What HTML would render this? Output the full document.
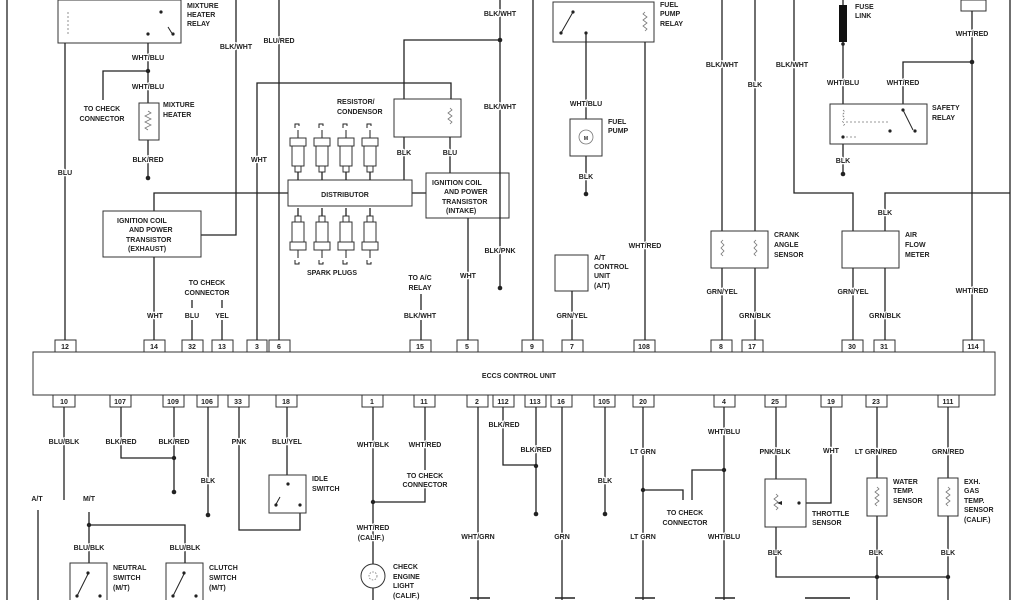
<!DOCTYPE html>
<html><head><meta charset="utf-8"><style>
html,body{margin:0;padding:0;background:#fff;}
svg{display:block;}
text{font-family:"Liberation Sans",sans-serif;font-size:7px;font-weight:bold;fill:#222;stroke:#fff;stroke-width:2.5px;paint-order:stroke;stroke-linejoin:round;}
.m{text-anchor:middle;}
.w{stroke:#222;stroke-width:1.3;fill:none;}
.b{stroke:#333;stroke-width:1;fill:#fff;}
.d{fill:#222;}
.z{stroke:#777;stroke-width:0.8;fill:none;}
</style></head><body>
<svg width="1024" height="600" viewBox="0 0 1024 600" xmlns="http://www.w3.org/2000/svg">
<defs>
<g id="plug"><path class="w" style="stroke-width:1" d="M-3,0 v-4 h4 v2 M0,2 v8"/><rect class="b" x="-8" y="10" width="16" height="8"/><rect class="b" x="-6" y="18" width="12" height="20"/><rect class="b" x="-3" y="38" width="6" height="6"/><path class="w" d="M0,44 v8"/></g>
</defs>
<!-- borders -->
<path class="w" d="M7,0 V600 M1010,0 V600"/>
<!-- ECU -->
<rect class="b" x="33" y="352" width="962" height="43"/>
<text x="519" y="378" class="m">ECCS CONTROL UNIT</text>
<!-- top pins -->
<g class="b">
<rect x="55" y="340" width="21" height="12"/><rect x="144" y="340" width="21" height="12"/><rect x="182" y="340" width="21" height="12"/><rect x="212" y="340" width="21" height="12"/><rect x="247" y="340" width="20" height="12"/><rect x="269" y="340" width="21" height="12"/><rect x="410" y="340" width="21" height="12"/><rect x="457" y="340" width="21" height="12"/><rect x="522" y="340" width="21" height="12"/><rect x="562" y="340" width="21" height="12"/><rect x="634" y="340" width="21" height="12"/><rect x="711" y="340" width="21" height="12"/><rect x="742" y="340" width="21" height="12"/><rect x="842" y="340" width="21" height="12"/><rect x="874" y="340" width="21" height="12"/><rect x="963" y="340" width="21" height="12"/>
</g>
<g>
<text x="65" y="349" class="m">12</text><text x="154" y="349" class="m">14</text><text x="192" y="349" class="m">32</text><text x="222" y="349" class="m">13</text><text x="257" y="349" class="m">3</text><text x="279" y="349" class="m">6</text><text x="420" y="349" class="m">15</text><text x="467" y="349" class="m">5</text><text x="532" y="349" class="m">9</text><text x="572" y="349" class="m">7</text><text x="644" y="349" class="m">108</text><text x="721" y="349" class="m">8</text><text x="752" y="349" class="m">17</text><text x="852" y="349" class="m">30</text><text x="884" y="349" class="m">31</text><text x="973" y="349" class="m">114</text>
</g>
<!-- bottom pins -->
<g class="b">
<rect x="53" y="395" width="22" height="12"/><rect x="110" y="395" width="21" height="12"/><rect x="163" y="395" width="21" height="12"/><rect x="197" y="395" width="21" height="12"/><rect x="228" y="395" width="21" height="12"/><rect x="276" y="395" width="21" height="12"/><rect x="362" y="395" width="21" height="12"/><rect x="414" y="395" width="21" height="12"/><rect x="467" y="395" width="21" height="12"/><rect x="493" y="395" width="21" height="12"/><rect x="525" y="395" width="21" height="12"/><rect x="551" y="395" width="21" height="12"/><rect x="594" y="395" width="21" height="12"/><rect x="633" y="395" width="21" height="12"/><rect x="714" y="395" width="21" height="12"/><rect x="765" y="395" width="21" height="12"/><rect x="821" y="395" width="21" height="12"/><rect x="866" y="395" width="21" height="12"/><rect x="938" y="395" width="21" height="12"/>
</g>
<g>
<text x="64" y="404" class="m">10</text><text x="120" y="404" class="m">107</text><text x="173" y="404" class="m">109</text><text x="207" y="404" class="m">106</text><text x="238" y="404" class="m">33</text><text x="286" y="404" class="m">18</text><text x="372" y="404" class="m">1</text><text x="424" y="404" class="m">11</text><text x="477" y="404" class="m">2</text><text x="503" y="404" class="m">112</text><text x="535" y="404" class="m">113</text><text x="561" y="404" class="m">16</text><text x="604" y="404" class="m">105</text><text x="643" y="404" class="m">20</text><text x="724" y="404" class="m">4</text><text x="775" y="404" class="m">25</text><text x="831" y="404" class="m">19</text><text x="876" y="404" class="m">23</text><text x="948" y="404" class="m">111</text>
</g>

<!-- ===== TOP LEFT ===== -->
<rect class="b" x="58" y="0" width="123" height="43"/>
<path class="z" d="M68,12 v22" stroke-dasharray="2,2"/>
<path class="w" style="stroke-width:1" d="M168,27 l5,8"/>
<circle class="d" cx="161" cy="12" r="1.6"/><circle class="d" cx="148" cy="34" r="1.6"/><circle class="d" cx="173" cy="34" r="1.6"/>
<text x="187" y="8">MIXTURE</text><text x="187" y="17">HEATER</text><text x="187" y="26">RELAY</text>
<path class="w" d="M65,43 V340"/>
<text x="65" y="175" class="m">BLU</text>
<path class="w" d="M148,43 V103 M148,71 H103 V100 M148,140 V178"/>
<circle class="d" cx="148" cy="71" r="2.2"/><circle class="d" cx="148" cy="178" r="2.3"/>
<text x="148" y="60" class="m">WHT/BLU</text><text x="148" y="89" class="m">WHT/BLU</text>
<text x="102" y="111" class="m">TO CHECK</text><text x="102" y="121" class="m">CONNECTOR</text>
<rect class="b" x="139" y="103" width="20" height="37"/>
<path class="z" d="M148,111 l3,2 l-6,3 l6,3 l-6,3 l6,3 l-6,3 l3,2"/>
<text x="163" y="107">MIXTURE</text><text x="163" y="117">HEATER</text>
<text x="148" y="162" class="m">BLK/RED</text>
<!-- BLK/WHT x236 -->
<path class="w" d="M236,0 V235 H201"/>
<text x="236" y="49" class="m">BLK/WHT</text>
<!-- BLU/RED x279 -->
<path class="w" d="M279,0 V340"/>
<text x="279" y="43" class="m">BLU/RED</text>
<!-- WHT x257 -->
<path class="w" d="M257,340 V83 H451 V99"/>
<text x="259" y="162" class="m">WHT</text>
<!-- resistor/condensor -->
<path class="w" d="M404,181 V40 H500"/>
<circle class="d" cx="500" cy="40" r="2.3"/>
<rect class="b" x="394" y="99" width="67" height="38"/>
<path class="z" d="M450,108 l2,2 l-4,3 l4,3 l-4,3 l4,3 l-2,2"/>
<text x="337" y="104">RESISTOR/</text><text x="337" y="114">CONDENSOR</text>
<path class="w" d="M450,137 V173"/>
<text x="404" y="155" class="m">BLK</text><text x="450" y="155" class="m">BLU</text>
<!-- distributor -->
<path class="w" d="M154,211 V193 H288 M412,193 H426"/>
<rect class="b" x="288" y="180" width="124" height="26"/>
<text x="345" y="197" class="m">DISTRIBUTOR</text>
<use href="#plug" x="298" y="128"/><use href="#plug" x="322" y="128"/><use href="#plug" x="346" y="128"/><use href="#plug" x="370" y="128"/>
<g transform="translate(0,440) scale(1,-1)"><use href="#plug" x="298" y="180"/><use href="#plug" x="322" y="180"/><use href="#plug" x="346" y="180"/><use href="#plug" x="370" y="180"/></g>
<text x="332" y="275" class="m">SPARK PLUGS</text>
<!-- ignition coil exhaust -->
<rect class="b" x="103" y="211" width="98" height="46"/>
<text x="117" y="223">IGNITION COIL</text><text x="129" y="232">AND POWER</text><text x="126" y="242">TRANSISTOR</text><text x="128" y="251">(EXHAUST)</text>
<path class="w" d="M154,257 V340"/>
<text x="155" y="318" class="m">WHT</text>
<!-- ignition coil intake -->
<rect class="b" x="426" y="173" width="83" height="45"/>
<text x="432" y="185">IGNITION COIL</text><text x="444" y="194">AND POWER</text><text x="442" y="204">TRANSISTOR</text><text x="446" y="213">(INTAKE)</text>
<path class="w" d="M468,218 V340"/>
<text x="468" y="278" class="m">WHT</text>
<!-- x500 -->
<path class="w" d="M500,0 V288"/>
<circle class="d" cx="500" cy="288" r="2.3"/>
<text x="500" y="16" class="m">BLK/WHT</text><text x="500" y="109" class="m">BLK/WHT</text><text x="500" y="253" class="m">BLK/PNK</text>
<!-- check connector -->
<text x="207" y="285" class="m">TO CHECK</text><text x="207" y="295" class="m">CONNECTOR</text>
<path class="w" d="M192,300 V308 M222,300 V308 M192,320 V340 M222,320 V340"/>
<text x="192" y="318" class="m">BLU</text><text x="222" y="318" class="m">YEL</text>
<text x="420" y="280" class="m">TO A/C</text><text x="420" y="290" class="m">RELAY</text>
<path class="w" d="M421,294 V310 M421,320 V340"/>
<text x="420" y="318" class="m">BLK/WHT</text>

<!-- ===== TOP RIGHT ===== -->
<path class="w" d="M533,0 V340"/>
<rect class="b" x="553" y="2" width="101" height="40"/>
<path class="w" style="stroke-width:1" d="M561,33 l12,-21"/>
<circle class="d" cx="573" cy="12" r="1.6"/><circle class="d" cx="561" cy="33" r="1.6"/><circle class="d" cx="586" cy="33" r="1.6"/>
<path class="z" d="M645,12 l-2,2 l4,3 l-4,3 l4,3 l-4,3 l4,3 l-2,2"/>
<text x="660" y="7">FUEL</text><text x="660" y="16">PUMP</text><text x="660" y="26">RELAY</text>
<path class="w" d="M586,33 V194 M645,42 V340"/>
<circle class="d" cx="586" cy="194" r="2.3"/>
<text x="586" y="106" class="m">WHT/BLU</text>
<rect class="b" x="570" y="119" width="32" height="37"/>
<circle cx="586" cy="137" r="7" class="z"/><text x="586" y="140" class="m" style="font-size:5px">M</text>
<text x="608" y="124">FUEL</text><text x="608" y="133">PUMP</text>
<text x="586" y="179" class="m">BLK</text>
<text x="645" y="248" class="m">WHT/RED</text>
<rect class="b" x="555" y="255" width="33" height="36"/>
<text x="594" y="260">A/T</text><text x="594" y="269">CONTROL</text><text x="594" y="278">UNIT</text><text x="594" y="288">(A/T)</text>
<path class="w" d="M572,291 V340"/>
<text x="572" y="318" class="m">GRN/YEL</text>
<!-- crank angle -->
<path class="w" d="M722,0 V340 M755,0 V340"/>
<rect class="b" x="711" y="231" width="57" height="37"/>
<path class="z" d="M723,240 l-2,2 l3,3 l-3,3 l3,3 l-3,3 l2,2 M756,240 l-2,2 l3,3 l-3,3 l3,3 l-3,3 l2,2"/>
<text x="722" y="67" class="m">BLK/WHT</text><text x="755" y="87" class="m">BLK</text>
<text x="774" y="237">CRANK</text><text x="774" y="247">ANGLE</text><text x="774" y="257">SENSOR</text>
<text x="722" y="294" class="m">GRN/YEL</text><text x="755" y="318" class="m">GRN/BLK</text>
<!-- x794 -->
<path class="w" d="M794,0 V193 H853 V340"/>
<text x="792" y="67" class="m">BLK/WHT</text>
<!-- fuse link -->
<path class="w" d="M843,0 V174"/>
<rect x="839" y="5" width="8" height="37" fill="#111"/>
<circle class="d" cx="843" cy="44" r="1.8"/>
<circle class="d" cx="843" cy="174" r="2.3"/>
<text x="855" y="9">FUSE</text><text x="855" y="18">LINK</text>
<text x="843" y="85" class="m">WHT/BLU</text>
<path class="w" d="M903,104 V62 H972"/>
<circle class="d" cx="972" cy="62" r="2.3"/>
<text x="903" y="85" class="m">WHT/RED</text>
<rect class="b" x="830" y="104" width="97" height="40"/>
<path class="z" d="M843,110 l2,2 l-3,3 l3,3 l-3,3 l3,3 l-3,3 M846,122 H890 M846,137 H858" stroke-dasharray="2,2"/>
<path class="w" style="stroke-width:1" d="M903,110 l10,20"/>
<circle class="d" cx="903" cy="110" r="1.6"/><circle class="d" cx="890" cy="131" r="1.6"/><circle class="d" cx="915" cy="131" r="1.6"/><circle class="d" cx="843" cy="137" r="1.6"/>
<text x="932" y="110">SAFETY</text><text x="932" y="120">RELAY</text>
<text x="843" y="163" class="m">BLK</text>
<rect class="b" x="961" y="0" width="25" height="11"/>
<path class="w" d="M972,11 V340"/>
<text x="972" y="36" class="m">WHT/RED</text><text x="972" y="293" class="m">WHT/RED</text>
<!-- air flow meter -->
<path class="w" d="M885,231 V193 H1010"/>
<rect class="b" x="842" y="231" width="57" height="37"/>
<path class="w" d="M885,268 V340"/>
<text x="885" y="215" class="m">BLK</text>
<text x="905" y="237">AIR</text><text x="905" y="247">FLOW</text><text x="905" y="257">METER</text>
<text x="853" y="294" class="m">GRN/YEL</text><text x="885" y="318" class="m">GRN/BLK</text>

<!-- ===== BOTTOM LEFT ===== -->
<path class="w" d="M64,407 V500"/>
<text x="64" y="444" class="m">BLU/BLK</text>
<text x="37" y="501" class="m">A/T</text><text x="89" y="501" class="m">M/T</text>
<path class="w" d="M38,510 V600 M89,512 V563 M89,525 H185 V563"/>
<circle class="d" cx="89" cy="525" r="2.2"/>
<text x="89" y="550" class="m">BLU/BLK</text><text x="185" y="550" class="m">BLU/BLK</text>
<rect class="b" x="70" y="563" width="37" height="40"/>
<rect class="b" x="166" y="563" width="37" height="40"/>
<path class="w" style="stroke-width:1" d="M77,596 l11,-22 M173,596 l11,-22"/>
<circle class="d" cx="88" cy="573" r="1.6"/><circle class="d" cx="77" cy="596" r="1.6"/><circle class="d" cx="100" cy="596" r="1.6"/>
<circle class="d" cx="184" cy="573" r="1.6"/><circle class="d" cx="173" cy="596" r="1.6"/><circle class="d" cx="196" cy="596" r="1.6"/>
<text x="113" y="570">NEUTRAL</text><text x="113" y="580">SWITCH</text><text x="113" y="590">(M/T)</text>
<text x="209" y="570">CLUTCH</text><text x="209" y="580">SWITCH</text><text x="209" y="590">(M/T)</text>
<path class="w" d="M121,407 V458 H174 M174,407 V492"/>
<circle class="d" cx="174" cy="458" r="2.2"/><circle class="d" cx="174" cy="492" r="2.3"/>
<text x="121" y="444" class="m">BLK/RED</text><text x="174" y="444" class="m">BLK/RED</text>
<path class="w" d="M208,407 V515"/>
<circle class="d" cx="208" cy="515" r="2.3"/>
<text x="208" y="483" class="m">BLK</text>
<path class="w" d="M239,407 V530 H300 V513"/>
<text x="239" y="444" class="m">PNK</text>
<path class="w" d="M287,407 V475"/>
<text x="287" y="444" class="m">BLU/YEL</text>
<rect class="b" x="269" y="475" width="37" height="38"/>
<path class="w" style="stroke-width:1" d="M275,506 l5,-9"/>
<circle class="d" cx="288" cy="484" r="1.6"/><circle class="d" cx="276" cy="505" r="1.6"/><circle class="d" cx="300" cy="505" r="1.6"/>
<text x="312" y="481">IDLE</text><text x="312" y="491">SWITCH</text>
<path class="w" d="M373,407 V600 M373,502 H425 V487 M425,407 V470"/>
<circle class="d" cx="373" cy="502" r="2.2"/>
<text x="373" y="447" class="m">WHT/BLK</text><text x="425" y="447" class="m">WHT/RED</text>
<text x="425" y="478" class="m">TO CHECK</text><text x="425" y="487" class="m">CONNECTOR</text>
<text x="373" y="530" class="m">WHT/RED</text><text x="371" y="540" class="m">(CALIF.)</text>
<circle cx="373" cy="576" r="12" class="b"/>
<circle cx="373" cy="576" r="4" class="z" stroke-dasharray="1.5,1.5"/>
<text x="393" y="569">CHECK</text><text x="393" y="579">ENGINE</text><text x="393" y="588">LIGHT</text><text x="393" y="598">(CALIF.)</text>
<path class="w" d="M478,407 V600"/>
<text x="478" y="539" class="m">WHT/GRN</text>
<path class="w" d="M503,407 V465 H536 M536,407 V514"/>
<circle class="d" cx="536" cy="466" r="2.2"/><circle class="d" cx="536" cy="514" r="2.3"/>
<text x="504" y="427" class="m">BLK/RED</text><text x="536" y="452" class="m">BLK/RED</text>
<path class="w" d="M562,407 V600"/>
<text x="562" y="539" class="m">GRN</text>
<path class="w" d="M605,407 V514"/>
<circle class="d" cx="605" cy="514" r="2.3"/>
<text x="605" y="483" class="m">BLK</text>
<path class="w" d="M643,407 V600 M643,490 H683 V500 M724,407 V600 M724,470 H692 V500"/>
<circle class="d" cx="643" cy="490" r="2.2"/><circle class="d" cx="724" cy="470" r="2.2"/>
<text x="643" y="454" class="m">LT GRN</text><text x="643" y="539" class="m">LT GRN</text>
<text x="724" y="434" class="m">WHT/BLU</text><text x="724" y="539" class="m">WHT/BLU</text>
<text x="685" y="515" class="m">TO CHECK</text><text x="685" y="525" class="m">CONNECTOR</text>
<!-- throttle -->
<path class="w" d="M776,407 V479 M776,527 V577 H948 M806,503 H831 V407"/>
<rect class="b" x="765" y="479" width="41" height="48"/>
<path class="z" d="M776,494 l2,2 l-4,3 l4,3 l-4,3 l4,3 l-2,2"/>
<path d="M777,503 l5,-2 v4 z" class="d"/><circle class="d" cx="799" cy="503" r="1.6"/>
<text x="775" y="454" class="m">PNK/BLK</text><text x="831" y="453" class="m">WHT</text>
<text x="812" y="516">THROTTLE</text><text x="812" y="525">SENSOR</text>
<text x="775" y="555" class="m">BLK</text>
<path class="w" d="M877,407 V600 M948,407 V600"/>
<circle class="d" cx="877" cy="577" r="2.2"/><circle class="d" cx="948" cy="577" r="2.2"/>
<text x="876" y="454" class="m">LT GRN/RED</text><text x="948" y="454" class="m">GRN/RED</text>
<rect class="b" x="867" y="478" width="20" height="38"/>
<rect class="b" x="938" y="478" width="20" height="38"/>
<path class="z" d="M877,487 l2,2 l-4,3 l4,3 l-4,3 l4,3 l-4,3 l2,2 M948,487 l2,2 l-4,3 l4,3 l-4,3 l4,3 l-4,3 l2,2"/>
<text x="893" y="484">WATER</text><text x="893" y="493">TEMP.</text><text x="893" y="503">SENSOR</text>
<text x="964" y="484">EXH.</text><text x="964" y="493">GAS</text><text x="964" y="503">TEMP.</text><text x="964" y="512">SENSOR</text><text x="964" y="522">(CALIF.)</text>
<text x="876" y="555" class="m">BLK</text><text x="948" y="555" class="m">BLK</text>
<!-- bottom cut bars -->
<path class="w" style="stroke-width:1.5" d="M470,598 H490 M555,598 H575 M635,598 H655 M715,598 H735 M805,598 H850"/>
</svg>
</body></html>
